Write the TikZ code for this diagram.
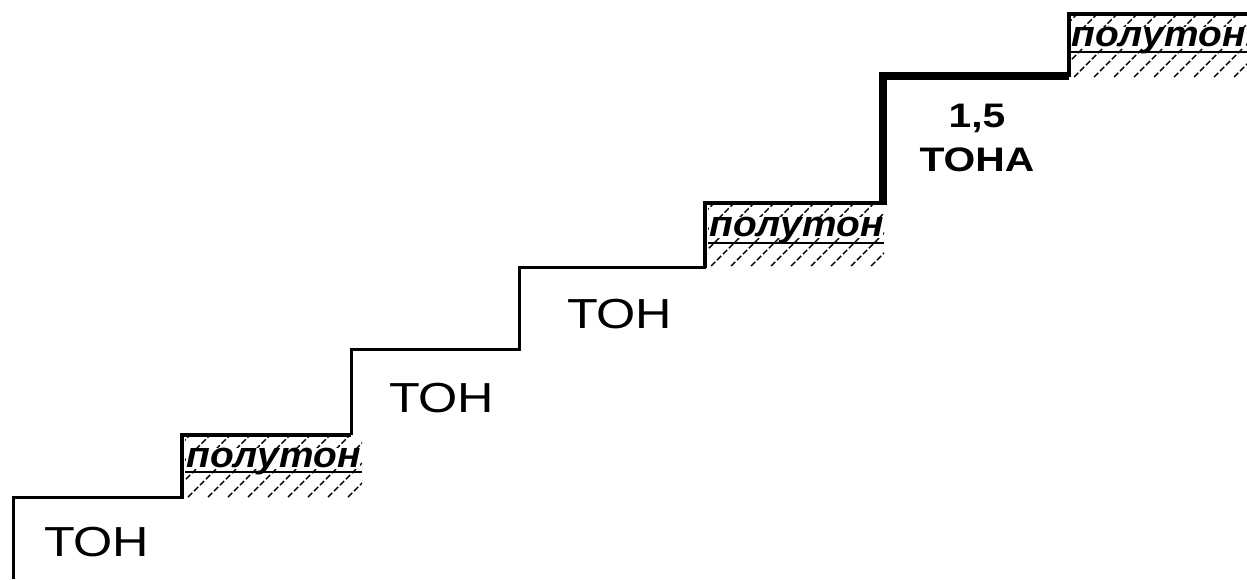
\documentclass[tikz,border=0pt]{standalone}
\usepackage{fontspec}
\setmainfont{Liberation Sans}
\begin{document}
\begin{tikzpicture}[x=0.5pt,y=-0.5pt,
 stair/.style={line width=1.5pt, line join=miter},
 halfstep/.style={line width=2.3pt, line join=miter},
 widestep/.style={line width=3.6pt, line join=miter},
 hatch/.style={line width=0.7pt, dash pattern=on 3pt off 1.2pt},
 uline/.style={line width=0.8pt},
 tonlbl/.style={font=\fontsize{21}{21}\selectfont, inner sep=0pt},
 biglbl/.style={font=\bfseries\fontsize{17}{22}\selectfont, inner sep=0pt, align=center},
 semilbl/.style={font=\bfseries\itshape\fontsize{18}{18}\selectfont, fill=white, inner sep=0pt, anchor=base west, text height=9.6pt, text depth=1.2pt},
]
\useasboundingbox (0,0) rectangle (1247,579);

% hatched half-tone steps
\begin{scope}
\clip (185,437) rectangle (362,497);
\foreach \k in {-4,...,10} \draw[hatch] (188+20*\k,497) -- ++(70,-70);
\end{scope}
\begin{scope}
\clip (708,205) rectangle (884,266);
\foreach \k in {-4,...,10} \draw[hatch] (711+20*\k,266) -- ++(70,-70);
\end{scope}
\begin{scope}
\clip (1071,16) rectangle (1247,77);
\foreach \k in {-4,...,10} \draw[hatch] (1074+20*\k,77) -- ++(70,-70);
\end{scope}

% half-tone labels
\node[semilbl] (p1) at (186,467) {\scalebox{1.08}[1]{полутон}};
\node[semilbl] (p2) at (709,236) {\scalebox{1.08}[1]{полутон}};
\node[semilbl] (p3) at (1071,46) {\scalebox{1.08}[1]{полутон}};
\draw[uline] (185,472) -- (362,472);
\draw[uline] (708,243) -- (884,243);
\draw[uline] (1071,52) -- (1247,52);

% staircase
\draw[stair] (13,579) -- (13,497) -- (183,497);
\draw[halfstep] (182,498.5) -- (182,435) -- (351,435);
\draw[stair] (351,435) -- (351,349) -- (519,349) -- (519,267) -- (706,267);
\draw[halfstep] (705,268) -- (705,203) -- (883,203);
\draw[widestep] (883,205) -- (883,76) -- (1069,76);
\draw[halfstep] (1069,77) -- (1069,14) -- (1247,14);

% tone labels
\node[tonlbl] (t1) at (97,542) {\scalebox{1.2}[1]{ТОН}};
\node[tonlbl] (t2) at (442,398) {\scalebox{1.2}[1]{ТОН}};
\node[tonlbl] (t3) at (620,314) {\scalebox{1.2}[1]{ТОН}};
\node[biglbl] (t4) at (977,138) {\scalebox{1.2}[1]{1,5}\\\scalebox{1.2}[1]{ТОНА}};
\end{tikzpicture}
\end{document}
